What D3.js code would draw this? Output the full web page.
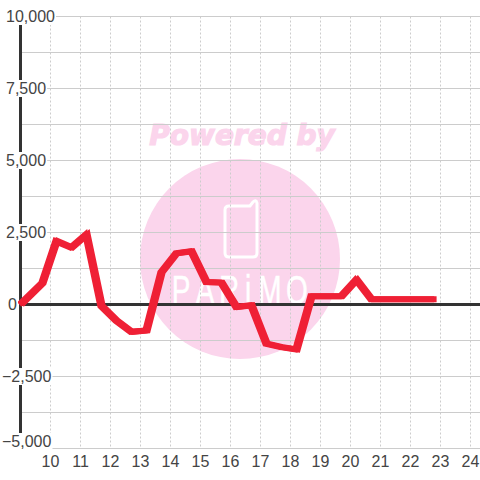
<!DOCTYPE html>
<html>
<head>
<meta charset="utf-8">
<script src="https://cdn.jsdelivr.net/npm/d3@7"></script>
<style>
html, body { margin: 0; padding: 0; background: #fff; }
svg { display: block; }
text { font-family: "Liberation Sans", sans-serif; }
</style>
</head>
<body>
<svg id="chart" width="480" height="480"></svg>
<script>
const hours = [9, 9.73, 10.2, 10.7, 11.2, 11.7, 12.2, 12.7, 13.2, 13.7, 14.2, 14.7, 15.2, 15.7, 16.2, 16.7, 17.2, 17.7, 18.2, 18.7, 19.2, 19.7, 20.2, 20.7, 21.2, 21.7, 22.2, 22.83];
const values = [0, 740, 2200, 1980, 2430, -50, -560, -950, -900, 1120, 1780, 1850, 780, 760, -90, -30, -1360, -1480, -1560, 290, 290, 290, 860, 180, 180, 180, 180, 180];
const xTicks = [10, 11, 12, 13, 14, 15, 16, 17, 18, 19, 20, 21, 22, 23, 24];
const yGrid = [10000, 8750, 7500, 6250, 5000, 3750, 2500, 1250, 0, -1250, -2500, -3750, -5000];
const yLabels = [10000, 7500, 5000, 2500, 0, -2500, -5000];
const logoLetters = ["P", "A", "R", "i", "M", "O"];

const svg = d3.select("#chart");
const x = d3.scaleLinear().domain([9, 24]).range([20.5, 470.5]);
const y = d3.scaleLinear().domain([-5000, 10000]).range([448.5, 16.5]);
const fmt = d3.format(",");

// watermark sits under the grid
const mark = svg.append("g");
mark.append("circle").attr("cx", 240).attr("cy", 259).attr("r", 100).attr("fill", "#fbd5ec");
mark.append("text")
    .attr("x", 242).attr("y", 145)
    .attr("text-anchor", "middle")
    .attr("fill", "#fbd5ec")
    .attr("stroke", "#fbd5ec")
    .attr("stroke-width", 1.2)
    .style("font-family", "'DejaVu Sans'")
    .style("font-weight", "bold")
    .style("font-style", "italic")
    .style("font-size", "28px")
    .text("Powered by");
mark.append("path")
    .attr("d", "M229 206 H250 L253 202 Q256 199 257 203 V253 Q257 257 253 257 H229 Q225 257 225 253 V210 Q225 206 229 206 Z")
    .attr("fill", "none").attr("stroke", "#fff").attr("stroke-width", 3);
const logoX = d3.scaleOrdinal().domain(logoLetters).range([181, 205, 229, 248, 270, 297]);
mark.append("g").selectAll("text").data(logoLetters).enter().append("text")
    .attr("transform", d => `translate(${logoX(d)},304) scale(0.7,1)`)
    .attr("text-anchor", "middle")
    .attr("fill", "#fff")
    .attr("stroke", "#fff")
    .attr("stroke-width", 0.5)
    .style("font-size", "40px")
    .text(d => d);

// grid
svg.append("g").selectAll("line").data(xTicks).enter().append("line")
    .attr("x1", d => x(d)).attr("x2", d => x(d))
    .attr("y1", y(10000)).attr("y2", y(-5000))
    .attr("stroke", "#ccc").attr("stroke-dasharray", "2,2");
svg.append("g").selectAll("line").data(yGrid).enter().append("line")
    .attr("x1", 20).attr("x2", 480)
    .attr("y1", d => y(d)).attr("y2", d => y(d))
    .attr("stroke", "#ccc");

// axes
svg.append("line").attr("x1", 20.5).attr("x2", 20.5).attr("y1", 16).attr("y2", 449)
    .attr("stroke", "#333").attr("stroke-width", 3);
svg.append("line").attr("x1", 20).attr("x2", 480).attr("y1", y(0)).attr("y2", y(0))
    .attr("stroke", "#333").attr("stroke-width", 3);

// series, drawn twice a little apart because the original stroke is wider sideways than it is tall
const line = d3.line().x((d, i) => x(hours[i])).y(d => y(d));
svg.append("g").selectAll("path").data([-1.2, 1.2]).enter().append("path")
    .attr("transform", d => `translate(${d},0)`)
    .attr("d", line(values))
    .attr("fill", "none")
    .attr("stroke", "#ef2035")
    .attr("stroke-width", 6)
    .attr("stroke-linejoin", "miter");

// y labels have a white box behind them that cuts the axis and grid
const labelY = d => d === -5000 ? y(d) - 7 : y(d);
const labelX = d => d === 0 ? 8 : (d < 0 ? 2 : 6);
const yl = svg.append("g").selectAll("g").data(yLabels).enter().append("g");
yl.append("text")
    .attr("x", labelX)
    .attr("y", d => labelY(d) + 5.5)
    .attr("fill", "#444")
    .style("font-size", "16px")
    .text(d => fmt(d));
yl.each(function() {
    const g = d3.select(this);
    const b = g.select("text").node().getBBox();
    g.insert("rect", "text")
        .attr("x", b.x).attr("y", b.y)
        .attr("width", b.width + 1).attr("height", b.height)
        .attr("fill", "#fff");
});

svg.append("g").selectAll("text").data(xTicks).enter().append("text")
    .attr("x", d => x(d))
    .attr("y", 467)
    .attr("text-anchor", "middle")
    .attr("fill", "#444")
    .style("font-size", "16px")
    .text(d => d);
</script>
</body>
</html>
